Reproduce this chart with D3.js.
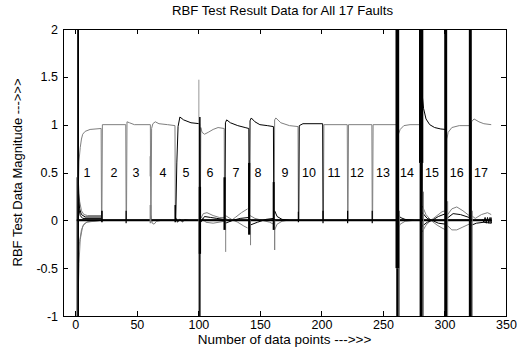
<!DOCTYPE html>
<html><head><meta charset="utf-8">
<script src="https://cdn.jsdelivr.net/npm/d3@7"></script>
<style>
html,body{margin:0;padding:0;background:#fff;}
text{font-family:"Liberation Sans",Arial,sans-serif;fill:#000;}
</style></head>
<body>
<svg id="chart" width="517" height="347"></svg>
<script>
// ---------- data ----------
const titleText = "RBF Test Result Data for All 17 Faults";
const xLabelText = "Number of data points --->>>";
const yLabelText = "RBF Test Data Magnitude --->>>";
const xTicks = [0, 50, 100, 150, 200, 250, 300, 350];
const yTicks = [-1, -0.5, 0, 0.5, 1, 1.5, 2];
const yTickLabels = ["-1", "-0.5", "0", "0.5", "1", "1.5", "2"];
const faultLabels = ["1","2","3","4","5","6","7","8","9","10","11","12","13","14","15","16","17"];
const faultLabelX = [9.5,31.4,49.3,71.3,90,109.5,130.6,148.5,170.4,189.9,210.2,228.9,250,269.5,289.9,310,329.7];
const faultLabelY = 0.5;
const dataStart = 1, dataEnd = 338;

// each fault output: its "on" profile [x, value]
const f1  = [[2,0],[2.4,0.3],[3,0.62],[4,0.76],[5,0.85],[6,0.9],[8,0.93],[12,0.95],[21,0.96],[21.3,0]];
const f2  = [[21.6,0],[22,1.0],[41,1.0],[41.3,0]];
const f3  = [[41.6,0],[42,1.03],[44,1.02],[48,1.0],[61,1.0],[61.3,0]];
const f4  = [[61.6,0],[62,0.96],[63,1.01],[65,1.03],[68,1.01],[75,1.0],[81,0.99],[81.3,0]];
const f5  = [[81.6,0],[82.5,0.6],[83.5,0.98],[85,1.08],[88,1.05],[94,1.02],[101,1.01],[101.3,0]];
const f6  = [[101.6,0],[102,0.97],[103,0.92],[105,0.9],[108,0.92],[112,0.95],[116,0.97],[121,0.96],[121.3,0]];
const f7  = [[121.6,0],[122,1.02],[123,1.05],[126,1.02],[132,0.99],[138,0.97],[141,0.96],[141.3,0]];
const f8  = [[141.6,0],[142,1.04],[143,1.07],[146,1.03],[150,1.0],[156,0.99],[161,0.98],[161.3,0]];
const f9  = [[161.6,0],[162,1.05],[163,1.07],[167,1.02],[174,0.99],[181,0.98],[181.3,0]];
const f10 = [[181.6,0],[182,0.99],[185,1.01],[201,1.01],[201.3,0]];
const f11 = [[201.6,0],[202,1.0],[221,1.0],[221.3,0]];
const f12 = [[221.6,0],[222,1.0],[241,1.0],[241.3,0]];
const f13 = [[241.6,0],[242,1.0],[261,1.0],[261.3,0]];
const f14 = [[261.6,0],[262,0.88],[264,0.95],[267,0.99],[272,1.0],[281,1.0],[281.3,0]];
const f15 = [[281.6,0],[282,1.3],[283,1.17],[285,1.06],[288,1.0],[292,0.97],[297,0.955],[301,0.95],[301.3,0]];
const f16 = [[301.6,0],[302,0.85],[303,0.92],[306,0.97],[312,0.99],[321,0.99],[321.3,0]];
const f17 = [[321.6,0],[322,1.03],[324,1.06],[328,1.03],[332,1.01],[338,1.0]];
const faultProfiles = [f1,f2,f3,f4,f5,f6,f7,f8,f9,f10,f11,f12,f13,f14,f15,f16,f17];
const blackFaults = [5,7,8,10,15];

// the outputs that sit at zero, overlapping
const zeroLine = [[1,0],[338,0]];

// transients of the other outputs near zero
const zGray = [
  [[2.5,0.4],[3.5,0.2],[5,0.1],[7,0.06],[10,0.05],[21,0.05]],
  [[2.5,-0.35],[3.5,-0.22],[5,-0.1],[7,-0.04],[10,-0.015],[21,0]],
  [[2.5,-0.7],[3,-0.45],[4,-0.2],[6,-0.06],[9,-0.02],[21,0]],
  [[61.5,0.05],[62.5,-0.03],[64,-0.04],[66,-0.01],[70,0]],
  [[102,0.02],[104,0.07],[107,0.08],[112,0.05],[117,0.03],[121,0.03]],
  [[102,0.04],[106,-0.02],[112,-0.03],[121,-0.01]],
  [[122,0.02],[126,-0.01],[130,0.03],[135,0.08],[140,0.12]],
  [[122,0.05],[127,0.01],[132,-0.02],[137,-0.06],[140,-0.08]],
  [[142,0.05],[146,0.02],[152,0.0],[158,-0.02],[161,-0.04]],
  [[162,-0.1],[164,-0.04],[168,-0.01],[172,0]],
  [[262,-0.1],[264,-0.04],[268,-0.01],[275,0]],
  [[282,0.15],[285,0.06],[289,0.0],[294,0.05],[298,0.09],[301,0.1]],
  [[282,-0.12],[285,-0.05],[289,0.0],[294,-0.05],[298,-0.08],[301,-0.1]],
  [[302,0.05],[306,0.12],[310,0.14],[315,0.1],[320,0.05]],
  [[302,-0.05],[306,-0.1],[310,-0.1],[315,-0.07],[320,-0.04]],
  [[322,0.05],[325,0.02],[330,0.06],[335,0.08],[338,0.06]]
];
const zBlack = [
  [[2.5,0.3],[3.5,0.12],[5,0.06],[8,0.035],[21,0.035]],
  [[2.5,0.15],[4,0.05],[6,0.02],[21,0.02]],
  [[81.5,0.03],[83,-0.02],[85,0.01],[87,-0.015],[89,0.005],[92,0]],
  [[102,-0.02],[105,0.04],[110,0.03],[115,0.02],[121,0.01]],
  [[122,-0.03],[128,0.0],[134,0.02],[141,0.03]],
  [[142,-0.05],[148,-0.02],[155,0.01],[161,0.02]],
  [[162,0.1],[164,0.04],[168,0.01],[174,0]],
  [[262,0.08],[264,0.03],[268,0.01],[275,0]],
  [[282,0.08],[286,0.02],[290,0.0],[295,0.04],[301,0.07]],
  [[282,-0.06],[286,-0.02],[290,0],[295,-0.03],[301,-0.04]],
  [[302,0.02],[307,0.07],[313,0.06],[320,0.03]],
  [[322,-0.05],[326,-0.03],[332,-0.02],[338,-0.03]],
  [[331,0.01],[332,-0.02],[333,0.03],[334,-0.03],[335,0.03],[336,-0.03],[337,0.03],[338,-0.03],[338,0.03]]
];

// dense oscillation bursts at fault switches: [x0, x1, low, high]
const blackBursts = [
  [1.5,3.0,-1.5,2.5],
  [21.0,22.3,-0.02,0.1],
  [40.8,41.8,-0.03,0.1],
  [80.6,81.8,-0.02,0.16],
  [100.6,101.8,-1.5,1.08],
  [100.3,102.2,-0.35,0.35],
  [120.4,122.2,-0.1,0.45],
  [140.4,142.2,-0.15,0.6],
  [160.4,162.0,-0.1,0.4],
  [180.8,181.8,-0.02,0.09],
  [200.8,201.8,-0.03,0.1],
  [220.8,221.8,-0.03,0.1],
  [240.8,241.8,-0.03,0.1],
  [260.2,263.2,-0.5,2.5],
  [260.8,262.8,-1.5,-0.5],
  [279.3,282.8,0.6,2.5],
  [279.8,282.3,-1.5,0.6],
  [299.8,302.2,-1.5,2.5],
  [319.8,322.2,-1.5,2.5]
];
const grayBursts = [
  [0.6,1.2,-1.5,0.45],
  [60.4,61.8,-0.03,0.16],
  [60.4,61.4,0.46,0.67],
  [100.1,100.7,0,1.47],
  [99.9,100.6,-1.5,0],
  [121.8,122.6,-0.33,0],
  [142.0,142.8,-0.26,0],
  [161.5,162.5,-0.31,0],
  [263.0,263.8,-1.5,0.1],
  [282.5,283.3,-1.5,0.3],
  [302.2,303.0,-1.5,0.2],
  [322.2,323.0,-1.5,0.1]
];

// ---------- drawing ----------
const W = 517, H = 347;
const m = {left: 63, right: 11, top: 29, bottom: 31};
const svg = d3.select("#chart");
const x = d3.scaleLinear().domain([-10, 350]).range([m.left, W - m.right]);
const y = d3.scaleLinear().domain([-1, 2]).range([H - m.bottom, m.top]);
const GRAY = "#7f7f7f";
const FONT = "Liberation Sans, Arial, sans-serif";

svg.append("rect").attr("width", W).attr("height", H).attr("fill", "#fff");
svg.append("defs").append("clipPath").attr("id","clip")
  .append("rect").attr("x", m.left).attr("y", m.top)
  .attr("width", x.range()[1]-m.left).attr("height", y.range()[0]-m.top);

const plot = svg.append("g").attr("clip-path","url(#clip)");
const line = d3.line().x(d => x(d[0])).y(d => y(d[1]));

function full(p){
  const pts = p.slice();
  if (pts[0][0] > dataStart) pts.unshift([dataStart, 0]);
  if (pts[pts.length-1][0] < dataEnd) pts.push([dataEnd, 0]);
  return pts;
}

plot.selectAll(".zg").data(zGray).join("path").attr("class","zg")
  .attr("d", line).attr("fill","none").attr("stroke",GRAY).attr("stroke-width",1);
const order = faultProfiles.map((p,i)=>i).sort((a,b)=> (blackFaults.includes(a+1)?1:0)-(blackFaults.includes(b+1)?1:0));
plot.selectAll(".fault").data(order).join("path").attr("class","fault")
  .attr("d", i => line(full(faultProfiles[i])))
  .attr("fill","none")
  .attr("stroke", i => blackFaults.includes(i+1) ? "#000" : GRAY)
  .attr("stroke-width",1);
plot.selectAll(".zb").data(zBlack).join("path").attr("class","zb")
  .attr("d", line).attr("fill","none").attr("stroke","#000").attr("stroke-width",1);
plot.append("path").datum(zeroLine).attr("d", line)
  .attr("fill","none").attr("stroke","#000").attr("stroke-width",1.8);

plot.selectAll(".gb").data(grayBursts).join("rect").attr("class","gb")
  .attr("x", d => x(d[0])).attr("width", d => Math.max(0.8, x(d[1])-x(d[0])))
  .attr("y", d => y(d[3])).attr("height", d => y(d[2])-y(d[3])).attr("fill", GRAY);
plot.selectAll(".bb").data(blackBursts).join("rect").attr("class","bb")
  .attr("x", d => x(d[0])).attr("width", d => x(d[1])-x(d[0]))
  .attr("y", d => y(d[3])).attr("height", d => y(d[2])-y(d[3])).attr("fill", "#000");

// axes box with inward ticks on all sides
const tl = 5;
const axB = svg.append("g").attr("transform",`translate(0,${y.range()[0]})`)
  .call(d3.axisBottom(x).tickValues(xTicks).tickSize(-tl).tickPadding(4).tickFormat(d3.format("d")));
const axT = svg.append("g").attr("transform",`translate(0,${m.top})`)
  .call(d3.axisTop(x).tickValues(xTicks).tickSize(-tl).tickFormat(""));
const axL = svg.append("g").attr("transform",`translate(${m.left},0)`)
  .call(d3.axisLeft(y).tickValues(yTicks).tickSize(-tl).tickPadding(5).tickFormat((d,i)=>yTickLabels[i]));
const axR = svg.append("g").attr("transform",`translate(${x.range()[1]},0)`)
  .call(d3.axisRight(y).tickValues(yTicks).tickSize(-tl).tickFormat(""));
[axB,axT,axL,axR].forEach(a => {
  a.select(".domain").remove();
  a.selectAll("line").attr("stroke","#000").attr("shape-rendering","crispEdges");
  a.selectAll("text").attr("font-size", 12.5).attr("font-family", FONT).attr("fill","#000");
});
svg.append("rect").attr("x", m.left).attr("y", m.top)
  .attr("width", x.range()[1]-m.left).attr("height", y.range()[0]-m.top)
  .attr("fill","none").attr("stroke","#000").attr("shape-rendering","crispEdges");

// fault numbers
svg.selectAll(".fl").data(faultLabels).join("text").attr("class","fl")
  .attr("x", (d,i) => x(faultLabelX[i])).attr("y", y(faultLabelY))
  .attr("text-anchor","middle").attr("dominant-baseline","central")
  .attr("font-size", 12.5).text(d => d);

// titles
svg.append("text").attr("x", (m.left + x.range()[1])/2 - 2).attr("y", 15)
  .attr("text-anchor","middle").attr("font-size", 13.2).text(titleText);
svg.append("text").attr("x", (m.left + x.range()[1])/2).attr("y", 344)
  .attr("text-anchor","middle").attr("font-size", 13.5).text(xLabelText);
svg.append("text").attr("transform", `translate(22,${(m.top + y.range()[0])/2}) rotate(-90)`)
  .attr("text-anchor","middle").attr("font-size", 13).text(yLabelText);
</script>
</body></html>
